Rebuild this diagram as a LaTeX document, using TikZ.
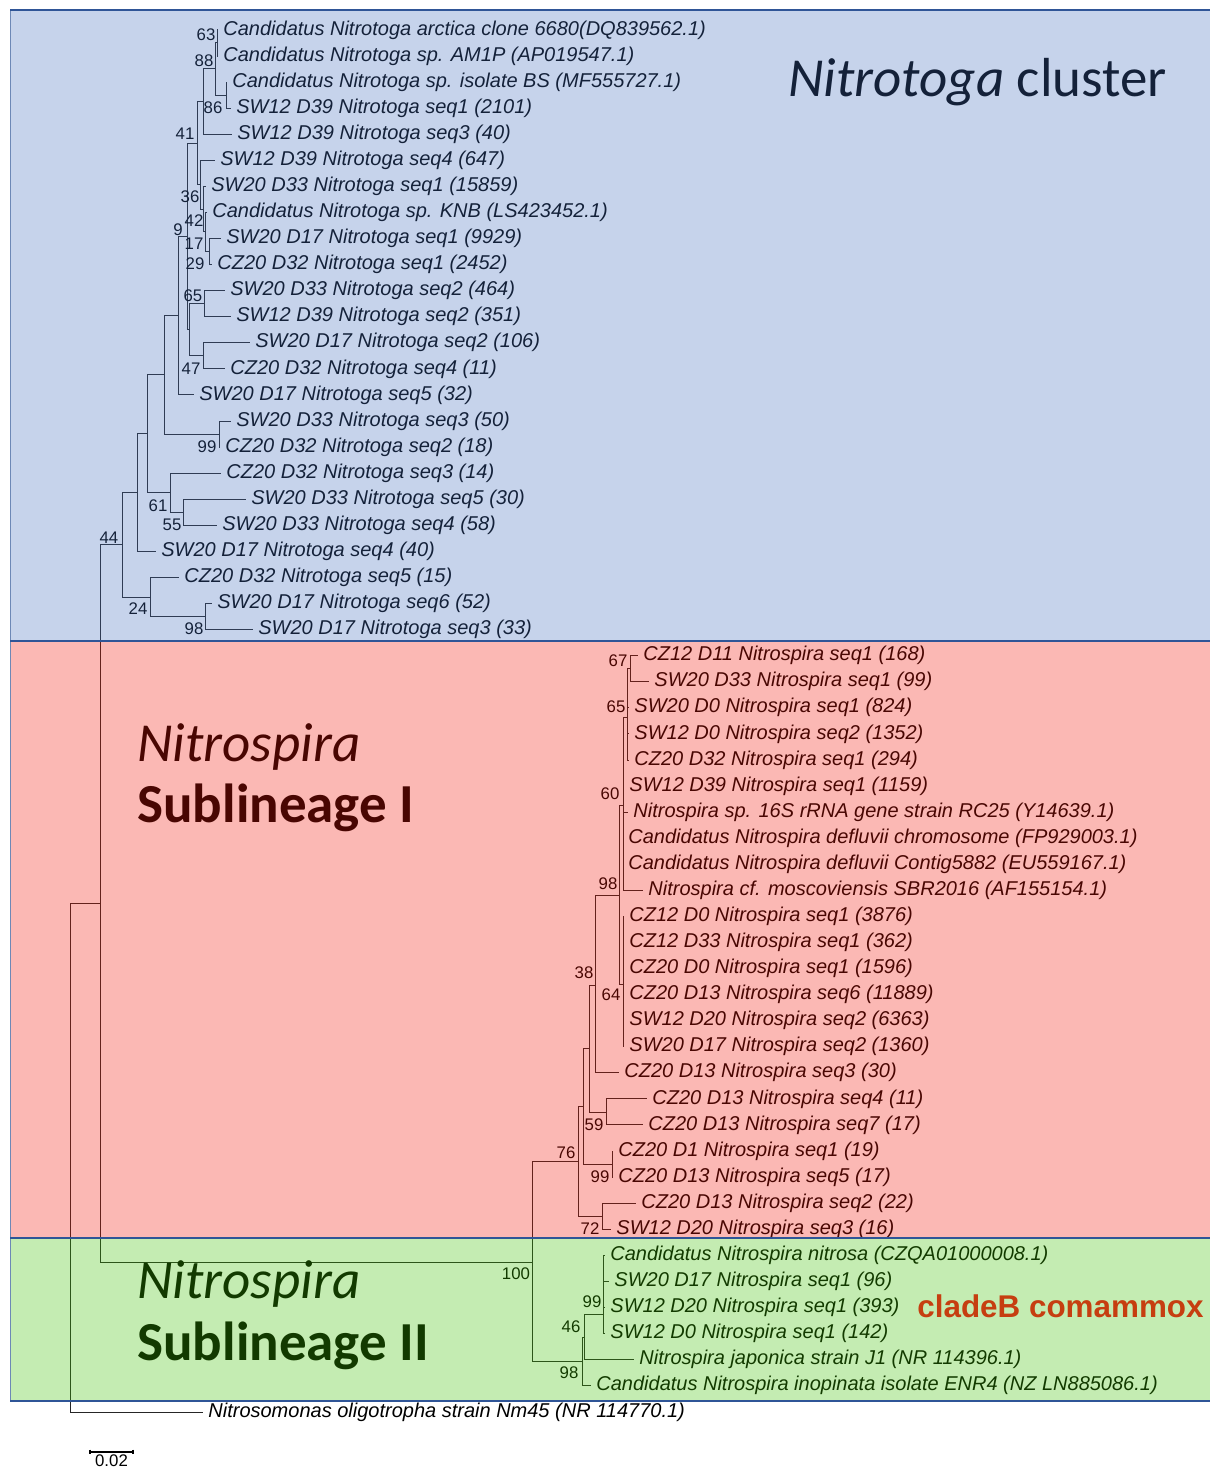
\documentclass[tikz,border=0pt]{standalone}
\usepackage{fontspec}
\setmainfont{Liberation Sans}
\newfontfamily\titlefont{Carlito}
\definecolor{ovblue}{RGB}{68,112,192}
\definecolor{ovpink}{RGB}{242,22,8}
\definecolor{ovgreen}{RGB}{62,195,0}
\definecolor{bordblue}{RGB}{47,85,151}
\definecolor{cladecol}{RGB}{198,62,16}
\begin{document}
\begin{tikzpicture}[x=0.5pt,y=-0.5pt,
  leaf/.style={anchor=west,inner xsep=2.5pt,inner ysep=0pt,yshift=-1pt,font=\fontsize{10}{12}\selectfont\itshape},
  bs/.style={font=\fontsize{8.4}{10}\selectfont,inner sep=0pt},
  br/.style={line width=0.5pt,black!85},
  ttl/.style={anchor=base west,inner sep=0pt,font=\titlefont\fontsize{27.5}{30}\selectfont}]
\fill[white] (0,0) rectangle (1210,1470);
\useasboundingbox (0,0) rectangle (1210,1470);

% ---------------- leaves: Nitrotoga cluster
\node[leaf] (l0) at (218,28) {Candidatus Nitrotoga arctica clone 6680(DQ839562.1)};
\node[leaf] (l1) at (218,54.1) {Candidatus Nitrotoga sp. AM1P (AP019547.1)};
\node[leaf] (l2) at (227,80.1) {Candidatus Nitrotoga sp. isolate BS (MF555727.1)};
\node[leaf] (l3) at (231,106.2) {SW12 D39 Nitrotoga seq1 (2101)};
\node[leaf] (l4) at (232,132.3) {SW12 D39 Nitrotoga seq3 (40)};
\node[leaf] (l5) at (215,158.4) {SW12 D39 Nitrotoga seq4 (647)};
\node[leaf] (l6) at (206,184.4) {SW20 D33 Nitrotoga seq1 (15859)};
\node[leaf] (l7) at (207,210.5) {Candidatus Nitrotoga sp. KNB (LS423452.1)};
\node[leaf] (l8) at (221,236.6) {SW20 D17 Nitrotoga seq1 (9929)};
\node[leaf] (l9) at (212,262.6) {CZ20 D32 Nitrotoga seq1 (2452)};
\node[leaf] (l10) at (225,288.7) {SW20 D33 Nitrotoga seq2 (464)};
\node[leaf] (l11) at (231,314.8) {SW12 D39 Nitrotoga seq2 (351)};
\node[leaf] (l12) at (250,340.8) {SW20 D17 Nitrotoga seq2 (106)};
\node[leaf] (l13) at (225,366.9) {CZ20 D32 Nitrotoga seq4 (11)};
\node[leaf] (l14) at (194,393.0) {SW20 D17 Nitrotoga seq5 (32)};
\node[leaf] (l15) at (231,419.1) {SW20 D33 Nitrotoga seq3 (50)};
\node[leaf] (l16) at (220,445.1) {CZ20 D32 Nitrotoga seq2 (18)};
\node[leaf] (l17) at (221,471.2) {CZ20 D32 Nitrotoga seq3 (14)};
\node[leaf] (l18) at (246,497.3) {SW20 D33 Nitrotoga seq5 (30)};
\node[leaf] (l19) at (217,523.3) {SW20 D33 Nitrotoga seq4 (58)};
\node[leaf] (l20) at (156,549.4) {SW20 D17 Nitrotoga seq4 (40)};
\node[leaf] (l21) at (179,575.5) {CZ20 D32 Nitrotoga seq5 (15)};
\node[leaf] (l22) at (212,601.5) {SW20 D17 Nitrotoga seq6 (52)};
\node[leaf] (l23) at (253,627.6) {SW20 D17 Nitrotoga seq3 (33)};
% ---------------- leaves: Nitrospira sublineage I
\node[leaf] (l24) at (638,653.7) {CZ12 D11 Nitrospira seq1 (168)};
\node[leaf] (l25) at (649,679.8) {SW20 D33 Nitrospira seq1 (99)};
\node[leaf] (l26) at (629,705.8) {SW20 D0 Nitrospira seq1 (824)};
\node[leaf] (l27) at (629,731.9) {SW12 D0 Nitrospira seq2 (1352)};
\node[leaf] (l28) at (629,758.0) {CZ20 D32 Nitrospira seq1 (294)};
\node[leaf] (l29) at (624,784.0) {SW12 D39 Nitrospira seq1 (1159)};
\node[leaf] (l30) at (628,810.1) {Nitrospira sp. 16S rRNA gene strain RC25 (Y14639.1)};
\node[leaf] (l31) at (623,836.2) {Candidatus Nitrospira defluvii chromosome (FP929003.1)};
\node[leaf] (l32) at (623,862.2) {Candidatus Nitrospira defluvii Contig5882 (EU559167.1)};
\node[leaf] (l33) at (643,888.3) {Nitrospira cf. moscoviensis SBR2016 (AF155154.1)};
\node[leaf] (l34) at (624,914.4) {CZ12 D0 Nitrospira seq1 (3876)};
\node[leaf] (l35) at (624,940.5) {CZ12 D33 Nitrospira seq1 (362)};
\node[leaf] (l36) at (624,966.5) {CZ20 D0 Nitrospira seq1 (1596)};
\node[leaf] (l37) at (624,992.6) {CZ20 D13 Nitrospira seq6 (11889)};
\node[leaf] (l38) at (624,1018.7) {SW12 D20 Nitrospira seq2 (6363)};
\node[leaf] (l39) at (624,1044.7) {SW20 D17 Nitrospira seq2 (1360)};
\node[leaf] (l40) at (619,1070.8) {CZ20 D13 Nitrospira seq3 (30)};
\node[leaf] (l41) at (647,1096.9) {CZ20 D13 Nitrospira seq4 (11)};
\node[leaf] (l42) at (643,1122.9) {CZ20 D13 Nitrospira seq7 (17)};
\node[leaf] (l43) at (613,1149.0) {CZ20 D1 Nitrospira seq1 (19)};
\node[leaf] (l44) at (613,1175.1) {CZ20 D13 Nitrospira seq5 (17)};
\node[leaf] (l45) at (636,1201.2) {CZ20 D13 Nitrospira seq2 (22)};
\node[leaf] (l46) at (611,1227.2) {SW12 D20 Nitrospira seq3 (16)};
% ---------------- leaves: Nitrospira sublineage II
\node[leaf] (l47) at (605,1253.3) {Candidatus Nitrospira nitrosa (CZQA01000008.1)};
\node[leaf] (l48) at (609,1279.4) {SW20 D17 Nitrospira seq1 (96)};
\node[leaf] (l49) at (605,1305.4) {SW12 D20 Nitrospira seq1 (393)};
\node[leaf] (l50) at (605,1331.5) {SW12 D0 Nitrospira seq1 (142)};
\node[leaf] (l51) at (634,1357.6) {Nitrospira japonica strain J1 (NR 114396.1)};
\node[leaf] (l52) at (591,1383.6) {Candidatus Nitrospira inopinata isolate ENR4 (NZ LN885086.1)};
\node[leaf] (l53) at (203,1410.5) {Nitrosomonas oligotropha strain Nm45 (NR 114770.1)};

% ---------------- internal nodes
\coordinate (n63) at (217,43);
\coordinate (n86) at (226,95.2);
\coordinate (n88) at (215,69);
\coordinate (nD) at (203,101.6);
\coordinate (n29) at (209,251.6);
\coordinate (nY) at (205,232);
\coordinate (nX) at (203,209.2);
\coordinate (n36) at (200,184.8);
\coordinate (n41) at (197,143.2);
\coordinate (n65) at (204,303.8);
\coordinate (n47) at (203,355.9);
\coordinate (n189) at (189,329.8);
\coordinate (n187) at (187,236.5);
\coordinate (n9) at (178,315.7);
\coordinate (n99t) at (219,434.1);
\coordinate (n164) at (164,374.9);
\coordinate (n55) at (183,512.3);
\coordinate (n61) at (170,492.8);
\coordinate (n147) at (147,433.8);
\coordinate (n137) at (137,492.6);
\coordinate (n98t) at (205,616.6);
\coordinate (n24) at (150,597);
\coordinate (n122) at (122,544.8);
\coordinate (n44) at (100,903.4);
\coordinate (root) at (70,1157.6);
\coordinate (n67) at (630,668.7);
\coordinate (n65p) at (627,717);
\coordinate (n60) at (623,805);
\coordinate (n64) at (623,984);
\coordinate (n98p) at (619,895);
\coordinate (n38) at (595,985);
\coordinate (n59) at (606,1112);
\coordinate (n589) at (589,1048.5);
\coordinate (n99p) at (612,1164);
\coordinate (n583) at (583,1106);
\coordinate (n72) at (602,1216.2);
\coordinate (n76) at (578,1161);
\coordinate (nNs) at (532,1262);
\coordinate (n99c) at (603,1314);
\coordinate (n46) at (584,1337);
\coordinate (n98g) at (582,1361);

% ---------------- branches
\begin{scope}[br]
\draw (n63) |- (l0.west); \draw (n63) |- (l1.west);
\draw (n86) |- (l2.west); \draw (n86) |- (l3.west);
\draw (n88) |- (n63); \draw (n88) |- (n86);
\draw (nD) |- (n88); \draw (nD) |- (l4.west);
\draw (n29) |- (l8.west); \draw (n29) |- (l9.west);
\draw (nY) |- (l7.west); \draw (nY) |- (n29);
\draw (nX) |- (l6.west); \draw (nX) |- (nY);
\draw (n36) |- (l5.west); \draw (n36) |- (nX);
\draw (n41) |- (nD); \draw (n41) |- (n36);
\draw (n65) |- (l10.west); \draw (n65) |- (l11.west);
\draw (n47) |- (l12.west); \draw (n47) |- (l13.west);
\draw (n189) |- (n65); \draw (n189) |- (n47);
\draw (n187) |- (n41); \draw (n187) |- (n189);
\draw (n9) |- (n187); \draw (n9) |- (l14.west);
\draw (n99t) |- (l15.west); \draw (n99t) |- (l16.west);
\draw (n164) |- (n9); \draw (n164) |- (n99t);
\draw (n55) |- (l18.west); \draw (n55) |- (l19.west);
\draw (n61) |- (l17.west); \draw (n61) |- (n55);
\draw (n147) |- (n164); \draw (n147) |- (n61);
\draw (n137) |- (n147); \draw (n137) |- (l20.west);
\draw (n98t) |- (l22.west); \draw (n98t) |- (l23.west);
\draw (n24) |- (l21.west); \draw (n24) |- (n98t);
\draw (n122) |- (n137); \draw (n122) |- (n24);
\draw (n44) |- (n122); \draw (n44) |- (nNs);
\draw (root) |- (n44); \draw (root) |- (l53.west);
% Nitrospira I
\draw (n67) |- (l24.west); \draw (n67) |- (l25.west);
\draw (n65p) |- (n67); \draw (n65p) |- (l26.west); \draw (n65p) |- (l27.west); \draw (n65p) |- (l28.west);
\draw (n60) |- (n65p);
\foreach \k in {29,...,33} {\draw (n60) |- (l\k.west);}
\foreach \k in {34,...,39} {\draw (n64) |- (l\k.west);}
\draw (n98p) |- (n60); \draw (n98p) |- (n64);
\draw (n38) |- (n98p); \draw (n38) |- (l40.west);
\draw (n59) |- (l41.west); \draw (n59) |- (l42.west);
\draw (n589) |- (n38); \draw (n589) |- (n59);
\draw (n99p) |- (l43.west); \draw (n99p) |- (l44.west);
\draw (n583) |- (n589); \draw (n583) |- (n99p);
\draw (n72) |- (l45.west); \draw (n72) |- (l46.west);
\draw (n76) |- (n583); \draw (n76) |- (n72);
\draw (nNs) |- (n76); \draw (nNs) |- (n98g);
% Nitrospira II
\foreach \k in {47,...,50} {\draw (n99c) |- (l\k.west);}
\draw (n46) |- (n99c); \draw (n46) |- (l51.west);
\draw (n98g) |- (n46); \draw (n98g) |- (l52.west);
\end{scope}

% ---------------- bootstrap values
\node[bs] (b63) at (206,35) {63};
\node[bs] (b88) at (204,61) {88};
\node[bs] (b86) at (213,108) {86};
\node[bs] (b41) at (185,134) {41};
\node[bs] (b36) at (190,197) {36};
\node[bs] (b42) at (194,221) {42};
\node[bs] (b9) at (178,230) {9};
\node[bs] (b17) at (194,244) {17};
\node[bs] (b29) at (195,264) {29};
\node[bs] (b65) at (193,296) {65};
\node[bs] (b47) at (191,369) {47};
\node[bs] (b99t) at (207,447) {99};
\node[bs] (b61) at (158,506) {61};
\node[bs] (b55) at (172,525) {55};
\node[bs] (b44) at (109,538) {44};
\node[bs] (b24) at (138,609) {24};
\node[bs] (b98t) at (194,629) {98};
\node[bs] (b67) at (618,661) {67};
\node[bs] (b65p) at (616,707) {65};
\node[bs] (b60) at (610,794) {60};
\node[bs] (b98p) at (608,884) {98};
\node[bs] (b38) at (584,973) {38};
\node[bs] (b64) at (611,995) {64};
\node[bs] (b59) at (594,1125) {59};
\node[bs] (b76) at (566,1153) {76};
\node[bs] (b99p) at (600,1177) {99};
\node[bs] (b72) at (590,1229) {72};
\node[bs] (b100) at (516,1274) {100};
\node[bs] (b99c) at (592,1302) {99};
\node[bs] (b46) at (571,1327) {46};
\node[bs] (b98g) at (569,1373) {98};

% ---------------- group titles
\node[ttl] (t1) at (788,97) {\itshape Nitrotoga\/\upshape{} cluster};
\node[ttl] (t2) at (137,761) {\itshape Nitrospira};
\node[ttl] (t3) at (137,822) {\bfseries Sublineage I};
\node[ttl] (t4) at (137,1298) {\itshape Nitrospira};
\node[ttl] (t5) at (137,1360) {\bfseries Sublineage II};

% ---------------- coloured overlays
\fill[ovblue,fill opacity=0.3] (10,10) rectangle (1210,641);
\fill[ovpink,fill opacity=0.3] (10,641) rectangle (1210,1238);
\fill[ovgreen,fill opacity=0.3] (10,1238) rectangle (1210,1401);
\draw[bordblue!70,line width=0.5pt] (10,10) -- (10,1401);
\foreach \yy in {10,641,1238,1401} {\draw[bordblue,line width=1pt] (10,\yy) -- (1210,\yy);}

\node[anchor=west,inner sep=0pt,text=cladecol,font=\fontsize{15.7}{18}\selectfont\bfseries] (clade) at (917,1306) {cladeB comammox};

% ---------------- scale bar
\coordinate (sbl) at (90,1452);
\coordinate (sbr) at (133,1452);
\draw[line width=0.7pt] (sbl) -- (sbr);
\draw[line width=0.6pt] ([yshift=1.2pt]sbl) -- ([yshift=-1.2pt]sbl);
\draw[line width=0.6pt] ([yshift=1.2pt]sbr) -- ([yshift=-1.2pt]sbr);
\node[bs] (sbt) at (111.5,1461) {0.02};
\end{tikzpicture}
\end{document}
